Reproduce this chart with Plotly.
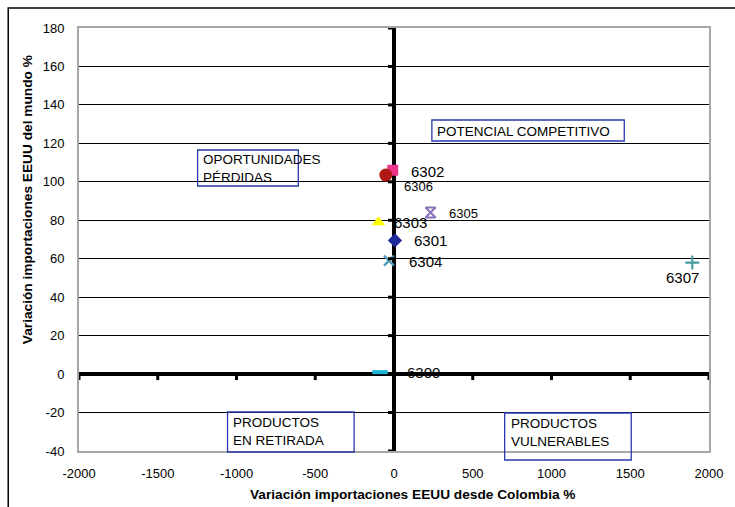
import plotly.graph_objects as go

# ---------------- data ----------------
codes = ["6300", "6301", "6302", "6303", "6304", "6305", "6306", "6307"]
x_colombia = [-89, 6, -8, -99, -32, 232, -52, 1894]
y_mundo = [1, 69.5, 106, 79, 59, 84, 103.5, 58]
x_ticks = [-2000, -1500, -1000, -500, 0, 500, 1000, 1500, 2000]
y_ticks = [-40, -20, 0, 20, 40, 60, 80, 100, 120, 140, 160, 180]
quadrant_labels = ["OPORTUNIDADES<br>PÉRDIDAS", "POTENCIAL COMPETITIVO",
                   "PRODUCTOS<br>EN RETIRADA", "PRODUCTOS<br>VULNERABLES"]

# ---------------- styles ----------------
marker_styles = {
    "6300": dict(symbol="line-ew", size=11, color="#1bb3d6", line=dict(width=4, color="#1bb3d6")),
    "6301": dict(symbol="diamond", size=11, color="#1f2a9a", line=dict(width=0)),
    "6302": dict(symbol="square", size=11, color="#f0358c", line=dict(width=0)),
    "6303": dict(symbol="triangle-up", size=12, color="#ffff00", line=dict(width=0)),
    "6304": dict(symbol="x-thin", size=10, color="#4a9ab5", line=dict(width=2.2, color="#4a9ab5")),
    "6305": dict(symbol="hourglass-open", size=10, color="#8a72b8", line=dict(width=2, color="#8a72b8")),
    "6306": dict(symbol="circle", size=13, color="#b11a14", line=dict(width=0)),
    "6307": dict(symbol="cross-thin", size=10, color="#4a9a9a", line=dict(width=2.2, color="#4a9a9a")),
}
label_style = {
    "6300": dict(xs=25, ys=0, anchor="left", size=15),
    "6301": dict(xs=17, ys=0, anchor="left", size=15),
    "6302": dict(xs=16, ys=-1, anchor="left", size=15),
    "6303": dict(xs=14, ys=0, anchor="left", size=15),
    "6304": dict(xs=18, ys=-1, anchor="left", size=15),
    "6305": dict(xs=16, ys=-1, anchor="left", size=13),
    "6306": dict(xs=16, ys=-11, anchor="left", size=13),
    "6307": dict(xs=9, ys=-15, anchor="right", size=15),
}

FONT = "Arial, Liberation Sans, sans-serif"
W, H = 735, 507
L, R, T, B = 79, 711, 28, 451


def px(xp):
    return (xp - L) / (R - L)


def py(yp):
    return (B - yp) / (B - T)


fig = go.Figure()
for c, xv, yv in zip(codes, x_colombia, y_mundo):
    fig.add_trace(go.Scatter(x=[xv], y=[yv], mode="markers", name=c,
                             marker=marker_styles[c], showlegend=False,
                             cliponaxis=False))

annotations = []
for c, xv, yv in zip(codes, x_colombia, y_mundo):
    s = label_style[c]
    annotations.append(dict(x=xv, y=yv, xref="x", yref="y", text=c, showarrow=False,
                            xanchor=s["anchor"], yanchor="middle",
                            xshift=s["xs"], yshift=s["ys"],
                            font=dict(family=FONT, size=s["size"], color="#000")))

# quadrant text boxes (pixel positions of the reference layout)
boxes = [
    ((198, 150, 299, 186), (201, 168)),
    ((433, 120, 626, 141), (436, 131)),
    ((228, 412, 355, 452), (231, 431)),
    ((506, 413, 633, 460), (510, 432)),
]
shapes = []
for (bx, (tx, ty)), txt in zip(boxes, quadrant_labels):
    x0, y0, x1, y1 = bx
    shapes.append(dict(type="rect", xref="paper", yref="paper",
                       x0=px(x0), x1=px(x1), y0=py(y1), y1=py(y0),
                       line=dict(color="#2a38b0", width=1.3), fillcolor="rgba(0,0,0,0)",
                       layer="above"))
    annotations.append(dict(x=px(tx), y=py(ty), xref="paper", yref="paper", text=txt,
                            showarrow=False, xanchor="left", yanchor="middle", align="left",
                            font=dict(family=FONT, size=13.5, color="#000")))

# tick marks on the crossing axes
for xt in x_ticks:
    shapes.append(dict(type="line", xref="x", yref="y", x0=xt, x1=xt, y0=-1, y1=-6,
                       ysizemode="pixel", yanchor=0,
                       line=dict(color="#000", width=3), layer="above"))
for yt in y_ticks:
    shapes.append(dict(type="line", xref="x", yref="y", x0=-6, x1=1, y0=yt, y1=yt,
                       xsizemode="pixel", xanchor=0,
                       line=dict(color="#000", width=3), layer="above"))

# outer chart border
shapes.append(dict(type="rect", xref="paper", yref="paper",
                   x0=px(8), x1=px(745), y0=py(515), y1=py(8),
                   line=dict(color="#000", width=1.5), layer="below"))

# axis titles
annotations.append(dict(x=px(414), y=py(494), xref="paper", yref="paper",
                        text="<b>Variación importaciones EEUU desde Colombia %</b>",
                        showarrow=False, xanchor="center", yanchor="middle",
                        font=dict(family=FONT, size=13.7, color="#000")))
annotations.append(dict(x=px(27), y=py(200), xref="paper", yref="paper",
                        text="<b>Variación importaciones EEUU del mundo %</b>",
                        showarrow=False, xanchor="center", yanchor="middle", textangle=-90,
                        font=dict(family=FONT, size=13.7, color="#000")))

fig.update_layout(
    width=W, height=H,
    margin=dict(l=L, r=W - R, t=T, b=H - B),
    paper_bgcolor="white", plot_bgcolor="white",
    shapes=shapes, annotations=annotations,
    showlegend=False,
    xaxis=dict(range=[-2000, 2000], tickvals=x_ticks, ticktext=[str(v) for v in x_ticks],
               showgrid=False, zeroline=True, zerolinecolor="#000", zerolinewidth=4,
               showline=True, linecolor="#a6a6a6", linewidth=2, mirror=True,
               ticks="", ticklabelstandoff=9,
               tickfont=dict(family=FONT, size=13, color="#000")),
    yaxis=dict(range=[-40, 180], tickvals=y_ticks, ticktext=[str(v) for v in y_ticks],
               showgrid=True, gridcolor="#000", gridwidth=1,
               zeroline=True, zerolinecolor="#000", zerolinewidth=4,
               showline=True, linecolor="#a6a6a6", linewidth=2, mirror=True,
               ticks="", ticklabelstandoff=10,
               tickfont=dict(family=FONT, size=13, color="#000")),
)

fig.write_html("out.html")
